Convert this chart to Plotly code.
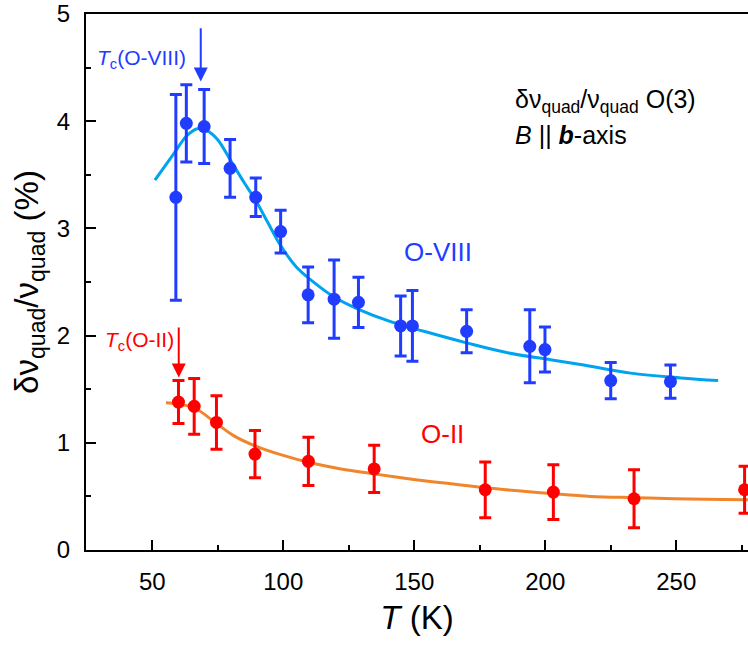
import plotly.graph_objects as go

# ---- data ----
t_o8 = [59.0, 63.0, 69.8, 79.7, 89.5, 99.0, 109.5, 119.4, 128.7, 144.8, 149.3, 170.0, 194.1, 199.9, 225.0, 247.8]
v_o8 = [3.29, 3.98, 3.95, 3.56, 3.29, 2.97, 2.38, 2.34, 2.31, 2.09, 2.09, 2.04, 1.90, 1.87, 1.58, 1.57]
e_o8 = [0.96, 0.36, 0.345, 0.27, 0.18, 0.20, 0.26, 0.365, 0.235, 0.28, 0.33, 0.20, 0.34, 0.21, 0.17, 0.155]

t_o2 = [60.0, 66.0, 74.5, 89.2, 109.6, 134.7, 177.1, 203.1, 233.9, 276.1]
v_o2 = [1.38, 1.34, 1.19, 0.895, 0.827, 0.756, 0.562, 0.54, 0.478, 0.562]
e_o2 = [0.20, 0.26, 0.25, 0.22, 0.225, 0.22, 0.26, 0.255, 0.27, 0.22]

fit_o8_t = [51.0, 58.3, 63.0, 67.2, 71.0, 74.9, 80.0, 85.0, 89.5, 94.0, 99.0, 105.0, 110.5, 119.4,
            128.3, 141.0, 153.7, 170.3, 185.6, 202.0, 213.5, 232.6, 251.7, 266.0]
fit_o8_v = [3.45, 3.70, 3.86, 3.93, 3.91, 3.83, 3.63, 3.43, 3.26, 3.06, 2.84, 2.64, 2.52, 2.36,
            2.25, 2.13, 2.04, 1.93, 1.84, 1.775, 1.73, 1.65, 1.605, 1.58]

fit_o2_t = [55.2, 60.0, 66.0, 74.9, 81.2, 89.2, 100.3, 109.6, 122.0, 134.7, 151.2, 164.0, 177.1,
            203.1, 217.4, 233.9, 249.2, 276.1, 280.0]
fit_o2_v = [1.373, 1.36, 1.327, 1.173, 1.065, 0.972, 0.88, 0.818, 0.756, 0.71, 0.654, 0.617, 0.58,
            0.525, 0.50, 0.488, 0.478, 0.469, 0.468]

x_ticks = [50, 100, 150, 200, 250]
y_ticks = [0, 1, 2, 3, 4, 5]

BLUE = "#1f3cff"
CYAN = "#00a3ee"
RED = "#ff0000"
ORANGE = "#f0852c"
FONT = "Liberation Sans, Arial, sans-serif"

fig = go.Figure()

fig.add_trace(go.Scatter(x=fit_o8_t, y=fit_o8_v, mode="lines",
                         line=dict(color=CYAN, width=3, shape="spline"), hoverinfo="skip"))
fig.add_trace(go.Scatter(x=fit_o2_t, y=fit_o2_v, mode="lines",
                         line=dict(color=ORANGE, width=3, shape="spline"), hoverinfo="skip"))

fig.add_trace(go.Scatter(x=t_o8, y=v_o8, mode="markers",
                         marker=dict(color=BLUE, size=13),
                         error_y=dict(type="data", array=e_o8, color=BLUE, thickness=3, width=6)))
fig.add_trace(go.Scatter(x=t_o2, y=v_o2, mode="markers",
                         marker=dict(color=RED, size=13),
                         error_y=dict(type="data", array=e_o2, color=RED, thickness=3, width=6)))

annotations = [
    dict(x=158.9, y=2.78, text="O-VIII", showarrow=False, font=dict(size=26, color=BLUE, family=FONT)),
    dict(x=160.9, y=1.08, text="O-II", showarrow=False, font=dict(size=26, color=RED, family=FONT)),
    dict(x=28.0, y=4.58, text="<i>T</i><sub>c</sub>(O-VIII)", showarrow=False, xanchor="left",
         font=dict(size=21, color=BLUE, family=FONT)),
    dict(x=31.0, y=1.95, text="<i>T</i><sub>c</sub>(O-II)", showarrow=False, xanchor="left",
         font=dict(size=21, color=RED, family=FONT)),
    dict(x=68.5, y=4.37, ax=68.5, ay=4.88, axref="x", ayref="y", text="", showarrow=True,
         arrowhead=2, arrowsize=1.4, arrowwidth=2, arrowcolor=BLUE),
    dict(x=60.1, y=1.61, ax=60.1, ay=2.09, axref="x", ayref="y", text="", showarrow=True,
         arrowhead=2, arrowsize=1.4, arrowwidth=2, arrowcolor=RED),
    dict(x=513, y=98, xref="paper", yref="paper", showarrow=False, xanchor="left", yanchor="middle",
         text="δν<sub>quad</sub>/ν<sub>quad</sub> O(3)", font=dict(size=25, color="black", family=FONT)),
    dict(x=513, y=132, xref="paper", yref="paper", showarrow=False, xanchor="left", yanchor="middle",
         text="<i>B</i> || <b><i>b</i></b>-axis", font=dict(size=25, color="black", family=FONT)),
]
# convert pixel positions of the two label lines into paper coords
L, R, T, B = 86, 0, 10, 100
W, H = 748, 650
pw, ph = W - L - R, H - T - B
for a in annotations:
    if a.get("xref") == "paper":
        a["x"] = (a["x"] - L) / pw
        a["y"] = 1 - (a["y"] - T) / ph

fig.update_layout(
    width=W, height=H,
    margin=dict(l=L, r=R, t=T, b=B),
    plot_bgcolor="white", paper_bgcolor="white",
    showlegend=False,
    font=dict(family=FONT, color="black", size=24),
    annotations=annotations,
)
fig.update_xaxes(
    range=[24.7, 277.4], tickvals=x_ticks, ticks="inside", ticklen=10, tickwidth=2, tickcolor="black",
    showline=True, linewidth=2, linecolor="black", mirror=True, showgrid=False, zeroline=False,
    minor=dict(ticks="inside", ticklen=5, tickwidth=2, tickcolor="black", dtick=25, tick0=0, showgrid=False),
    tickfont=dict(size=24), ticklabelstandoff=9, ticklabeloverflow="allow",
    title=dict(text="<i>T</i> (K)", font=dict(size=33), standoff=12),
)
fig.update_yaxes(
    range=[0, 5], tickvals=y_ticks, ticks="inside", ticklen=10, tickwidth=2, tickcolor="black",
    showline=True, linewidth=2, linecolor="black", mirror=False, showgrid=False, zeroline=False,
    minor=dict(ticks="inside", ticklen=5, tickwidth=2, tickcolor="black", dtick=0.5, tick0=0, showgrid=False),
    tickfont=dict(size=24), ticklabelstandoff=9, ticklabeloverflow="allow",
    title=dict(text="δν<sub>quad</sub>/ν<sub>quad</sub> (%)", font=dict(size=33), standoff=8),
)

fig.write_html(
    "out.html",
    config={"displayModeBar": False},
    post_script="document.body.style.margin='0';document.body.style.overflow='hidden';",
)
